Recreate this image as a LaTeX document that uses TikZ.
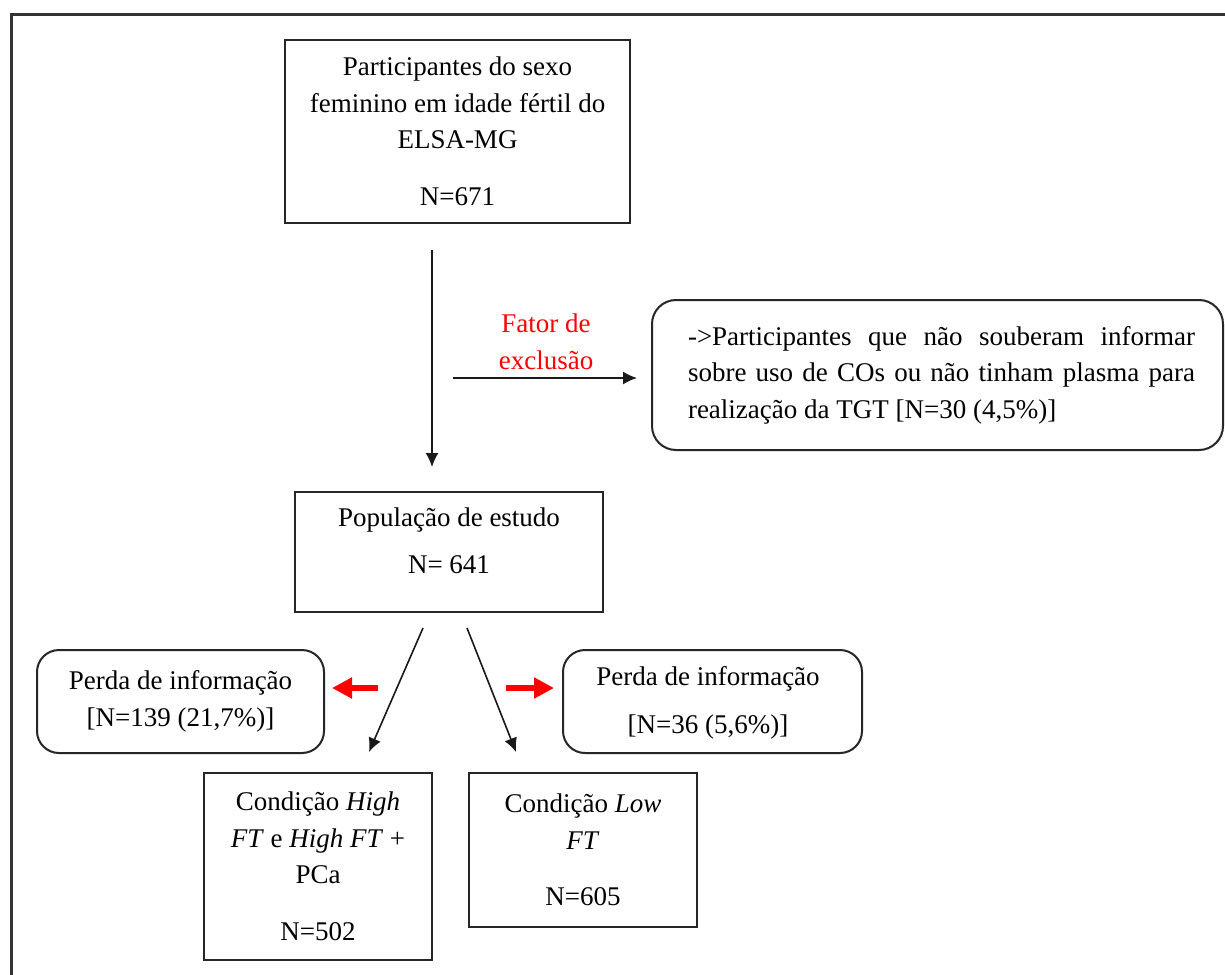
\documentclass[tikz,border=0pt]{standalone}
\usepackage{fontspec}
\setmainfont{Liberation Serif}
\usetikzlibrary{arrows.meta}
\newcommand\myfont{\fontsize{13.5}{18.25}\selectfont}
\begin{document}
\begin{tikzpicture}[x=0.5pt,y=-0.5pt,
  box/.style={draw=black!85, line width=1pt, inner sep=0pt, align=center, font=\myfont},
  rbox/.style={box, rounded corners=11pt},
  txt/.style={inner sep=0pt, align=center, font=\myfont},
  arr/.style={-{Latex[length=7pt,width=6.5pt]}, line width=0.8pt, draw=black!90},
  redarr/.style={-{Triangle[length=10pt,width=10pt]}, line width=3pt, draw=red, fill=red},
  frame/.style={line width=1.5pt, draw=black!80}
]
\useasboundingbox (0,0) rectangle (1225,974);
\clip (0,0) rectangle (1225,974);
\fill[white] (0,0) rectangle (1225,974);
\draw[frame] (11,1000) -- (11,15) -- (1250,15);

% boxes
\node[box, minimum width=172.5pt, minimum height=91.5pt] (top) at (457.5,131.5)
  {Participantes do sexo\\feminino em idade fértil do\\ELSA-MG\\[10pt]N=671};

\node[box, minimum width=154pt, minimum height=60pt] (pop) at (449,552) {};
\node[txt] (popt) at (449,541) {População de estudo\\[5pt]N= 641};

\node[rbox, rounded corners=12pt, minimum width=285.5pt, minimum height=75pt] (excl) at (937.5,375) {};
\node[txt] (exclt) at (941.5,375)
  {\makebox[253.5pt][s]{->Participantes que não souberam informar}\\
   \makebox[253.5pt][s]{sobre uso de COs ou não tinham plasma para}\\
   \makebox[253.5pt][l]{realização da TGT [N=30 (4,5\%)]}};

\node[txt, text=red] (fator) at (546,342) {Fator de\\exclusão};

\node[rbox, minimum width=143.5pt, minimum height=51.5pt] (lossL) at (180.5,701.5)
  {Perda de informação\\{[}N=139 (21,7\%){]}};

\node[rbox, minimum width=149.5pt, minimum height=51.5pt] (lossR) at (712.5,701.5) {};
\node[txt] (lossRt) at (708,703) {Perda de informação\\[6pt]{[}N=36 (5,6\%){]}};

\node[box, minimum width=114pt, minimum height=93.5pt] (high) at (318,866.5)
  {Condição \textit{High}\\\textit{FT} e \textit{High FT} +\\PCa\\[10pt]N=502};

\node[box, minimum width=114pt, minimum height=77pt] (low) at (583,850)
  {Condição \textit{Low}\\\textit{FT}\\[10pt]N=605};

% connector end points
\coordinate (v1) at (432,250);
\coordinate (v2) at (432,467);
\coordinate (h1) at (453,378);
\coordinate (h2) at (637,378);
\coordinate (d1s) at (423,628);
\coordinate (d1e) at (369,752);
\coordinate (d2s) at (467,628);
\coordinate (d2e) at (516,752);
\coordinate (r1s) at (378,688);
\coordinate (r1e) at (332,688);
\coordinate (r2s) at (506,688);
\coordinate (r2e) at (554,688);

\draw[arr] (v1) -- (v2);
\draw[arr] (h1) -- (h2);
\draw[arr] (d1s) -- (d1e);
\draw[arr] (d2s) -- (d2e);
\draw[redarr] (r1s) -- (r1e);
\draw[redarr] (r2s) -- (r2e);
\end{tikzpicture}
\end{document}
